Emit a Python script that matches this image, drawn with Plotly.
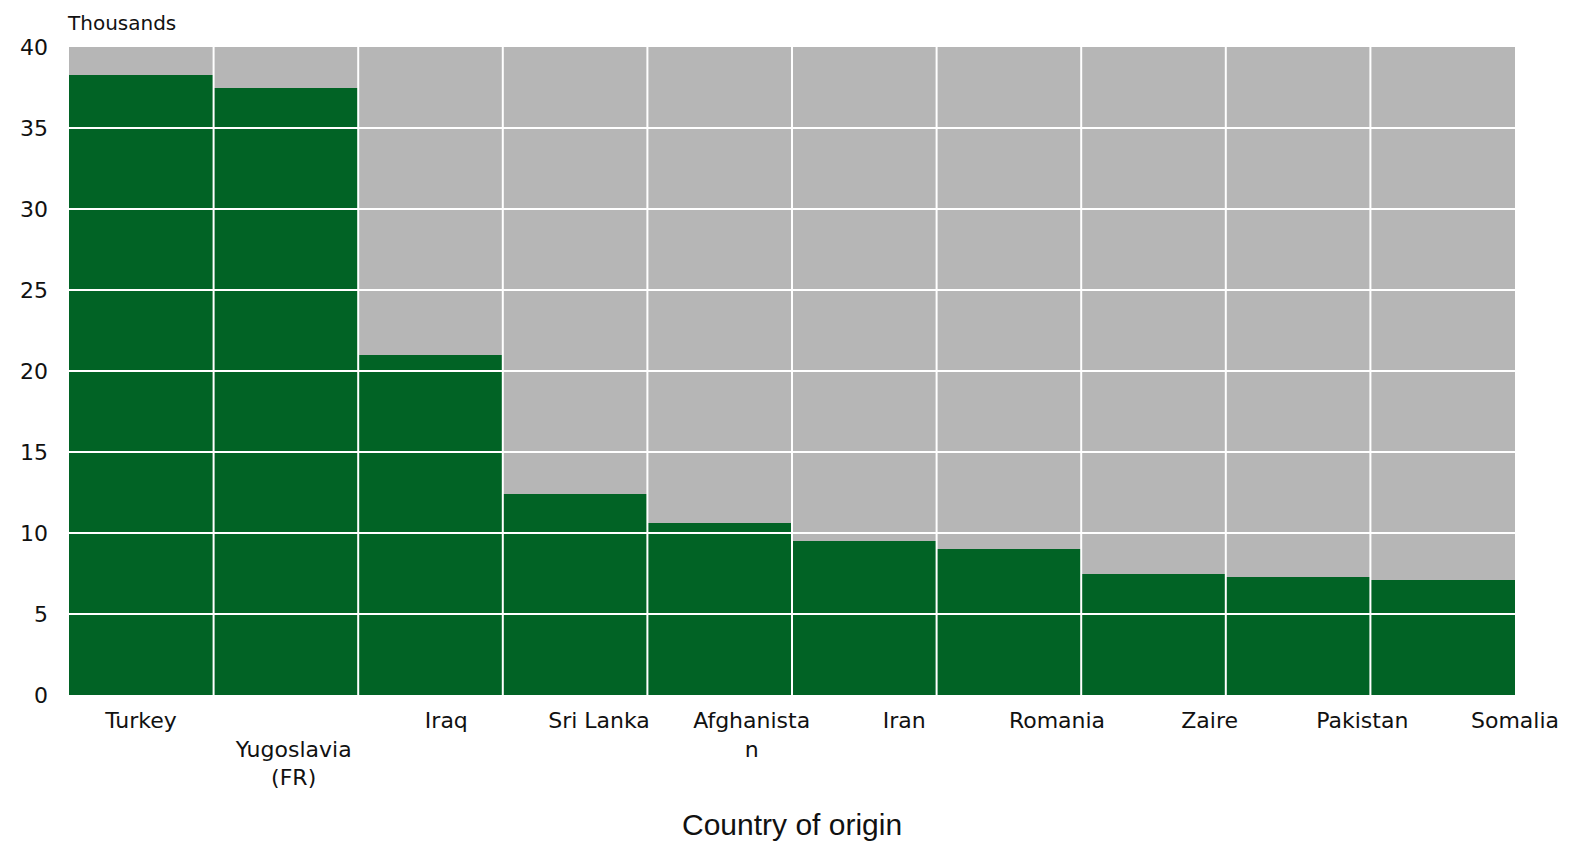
import plotly.graph_objects as go

# Asylum applications by country of origin (thousands)
countries = ["Turkey", "Yugoslavia (FR)", "Iraq", "Sri Lanka", "Afghanistan",
             "Iran", "Romania", "Zaire", "Pakistan", "Somalia"]
applications = [38.3, 37.5, 21.0, 12.4, 10.6, 9.5, 9.0, 7.5, 7.3, 7.1]
tick_labels = ["Turkey", "<br>Yugoslavia<br>(FR)", "Iraq", "Sri Lanka", "Afghanista<br>n",
               "Iran", "Romania", "Zaire", "Pakistan", "Somalia"]
y_ticks = [0, 5, 10, 15, 20, 25, 30, 35, 40]

GREEN = "#016325"
PANEL = "#b6b6b6"
TICK_FONT = dict(family="DejaVu Sans", size=22, color="#111111")

fig = go.Figure(
    go.Bar(
        x=countries,
        y=applications,
        marker=dict(color=GREEN, line=dict(width=0)),
        hoverinfo="x+y",
    )
)

# white rules drawn over the bars: horizontal at each y tick, vertical between categories
for v in y_ticks[1:-1]:
    fig.add_shape(
        type="line", xref="paper", yref="y", x0=0, x1=1, y0=v, y1=v,
        line=dict(color="white", width=2), layer="above",
    )
for i in range(len(countries) - 1):
    fig.add_shape(
        type="line", xref="x", yref="paper", x0=i + 0.5, x1=i + 0.5, y0=0, y1=1,
        line=dict(color="white", width=2), layer="above",
    )

# invisible label axis: category names spread slightly wider than the bars
fig.add_trace(go.Scatter(x=[], y=[], xaxis="x2", yaxis="y", showlegend=False))

fig.add_annotation(
    text="Thousands", xref="paper", yref="paper", x=0, y=1,
    xanchor="left", yanchor="bottom", yshift=10, xshift=-4, showarrow=False,
    font=dict(family="DejaVu Sans", size=20, color="#111111"),
)
fig.add_annotation(
    text="Country of origin", xref="paper", yref="paper", x=0.5, y=0,
    xanchor="center", yanchor="top", yshift=-111, showarrow=False,
    font=dict(family="Liberation Sans", size=30, color="#111111"),
)

fig.update_layout(
    width=1573, height=842,
    margin=dict(l=69, r=58, t=47, b=147),
    paper_bgcolor="white",
    plot_bgcolor=PANEL,
    bargap=0,
    showlegend=False,
    xaxis=dict(
        tickson="boundaries", showgrid=False, showticklabels=False,
        ticks="", showline=False, zeroline=False, fixedrange=True,
    ),
    xaxis2=dict(
        overlaying="x", anchor="y", side="bottom", type="linear",
        range=[-0.4716, 9.0001], tickmode="array",
        tickvals=list(range(len(tick_labels))), ticktext=tick_labels,
        showgrid=False, zeroline=False, showline=False, ticks="",
        ticklabelstandoff=10, tickfont=TICK_FONT, fixedrange=True,
    ),
    yaxis=dict(
        range=[0, 40], tickvals=y_ticks, showgrid=True, gridcolor="white", gridwidth=2,
        ticks="", ticklabelstandoff=20, tickfont=TICK_FONT,
        showline=False, zeroline=False, fixedrange=True,
    ),
)

fig.write_html("out.html")
